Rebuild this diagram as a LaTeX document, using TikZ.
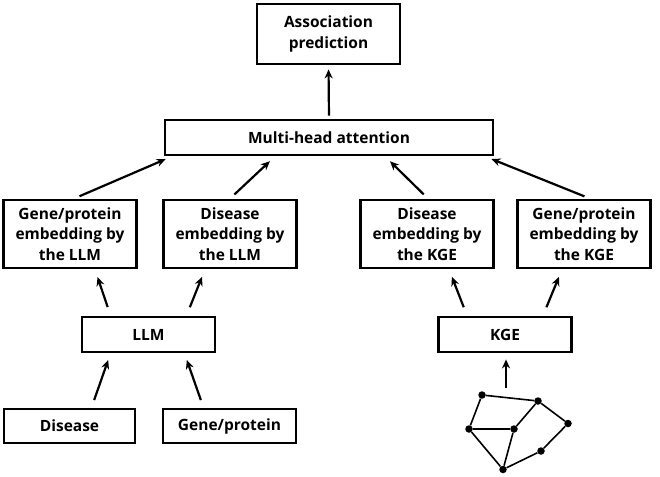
\documentclass[tikz,border=0pt]{standalone}
\usepackage{fontspec}
\setmainfont{Open Sans}
\usetikzlibrary{arrows.meta}
\tikzset{
  box/.style={draw, line width=2.8pt, align=center, inner sep=0pt,
    font=\fontsize{15.5}{20.5}\selectfont\bfseries},
  dot/.style={circle, fill=black, inner sep=0pt, minimum size=7.5pt},
  arr/.style={->, line width=2.2pt},
  edge/.style={line width=1.6pt},
}
\begin{document}
\begin{tikzpicture}[x=1pt, y=-1pt, >={Stealth[length=9pt,width=8pt]}]
                \useasboundingbox (0,0) rectangle (660,476);
                % top
                \node[box, minimum width=143pt, minimum height=60pt] (assoc) at (328.5,34) {Association\\prediction};
                \node[box, minimum width=328pt, minimum height=35pt] (mha) at (329,137.5) {Multi-head attention};
                % embeddings
                \node[box, minimum width=133pt, minimum height=68pt] (embgl) at (70,234) {Gene/protein\\embedding by\\the LLM};
                \node[box, minimum width=133pt, minimum height=68pt] (embdl) at (230,234) {Disease\\embedding by\\the LLM};
                \node[box, minimum width=133pt, minimum height=68pt] (embdk) at (427,234) {Disease\\embedding by\\the KGE};
                \node[box, minimum width=133pt, minimum height=68pt] (embgk) at (584,234) {Gene/protein\\embedding by\\the KGE};
                % models
                \node[box, minimum width=133pt, minimum height=35pt] (llm) at (148.5,334.5) {LLM};
                \node[box, minimum width=133pt, minimum height=35pt] (kge) at (505,334.5) {KGE};
                % inputs
                \node[box, minimum width=131pt, minimum height=34pt] (dis) at (69.5,426) {Disease};
                \node[box, minimum width=133pt, minimum height=34pt] (gp) at (229.5,426) {Gene/protein};
                % knowledge graph
                \foreach \n/\x/\y in {ga/482/395, gb/538/401, gc/568/423.5, gd/469/429, ge/514/429, gf/541/451, gg/503/469.5}
                    {
                        \node[dot] (\n) at (\x,\y) {};
                    }
                \foreach \a/\b in {ga/gb, ga/gd, gb/ge, gb/gc, gd/ge, gd/gg, ge/gg, gg/gf, gf/gc}
                    {
                        \draw[edge] (\a) -- (\b);
                    }
                \coordinate (gtop) at (506,388);
                % arrows
                \draw[arr, shorten <=3pt, shorten >=4pt] (mha.north) -- (assoc.south);
                \draw[arr, shorten <=6pt, shorten >=7pt] ([xshift=4pt]embgl.north) -- ([xshift=-157pt]mha.south);
                \draw[arr, shorten <=6pt, shorten >=7pt] ([xshift=0pt]embdl.north) -- ([xshift=-54pt]mha.south);
                \draw[arr, shorten <=6pt, shorten >=7pt] ([xshift=1pt]embdk.north) -- ([xshift=56pt]mha.south);
                \draw[arr, shorten <=6pt, shorten >=7pt] ([xshift=6pt]embgk.north) -- ([xshift=156pt]mha.south);
                \draw[arr, shorten <=9pt, shorten >=8pt] ([xshift=-38pt]llm.north) -- ([xshift=25pt]embgl.south);
                \draw[arr, shorten <=9pt, shorten >=8pt] ([xshift=38pt]llm.north) -- ([xshift=-25pt]embdl.south);
                \draw[arr, shorten <=9pt, shorten >=8pt] ([xshift=-38pt]kge.north) -- ([xshift=22pt]embdk.south);
                \draw[arr, shorten <=9pt, shorten >=8pt] ([xshift=38pt]kge.north) -- ([xshift=-22pt]embgk.south);
                \draw[arr, shorten <=8pt, shorten >=7pt] ([xshift=22pt]dis.north) -- ([xshift=-38pt]llm.south);
                \draw[arr, shorten <=8pt, shorten >=7pt] ([xshift=-26pt]gp.north) -- ([xshift=36pt]llm.south);
                \draw[arr, shorten >=6pt] (gtop) -- (gtop |- kge.south);
\end{tikzpicture}
\end{document}
